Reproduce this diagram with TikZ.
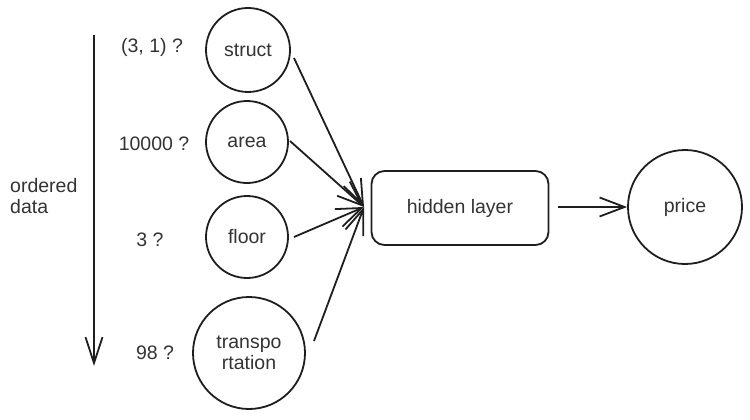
\documentclass[tikz,border=0pt]{standalone}
\usepackage{fontspec}
\setmainfont{Liberation Sans}
\usetikzlibrary{arrows.meta}
\definecolor{ink}{HTML}{1E1E1E}
\definecolor{txt}{HTML}{333333}
\begin{document}
\begin{tikzpicture}[x=1pt,y=-1pt,
  every node/.style={font=\fontsize{19.5}{21.5}\selectfont, text=txt},
  feat/.style={circle, draw=ink, line width=1.8pt, inner sep=0pt},
  lbl/.style={inner sep=0pt},
  conn/.style={draw=ink, line width=1.8pt, -{Straight Barb[length=25pt,width=19pt,line width=1.8pt]}},
  hbox/.style={draw=ink, line width=1.8pt, rounded corners=13pt, minimum width=177pt, minimum height=74pt}]
\useasboundingbox (0,0) rectangle (750,420);
% ordered data arrow
\coordinate (otop) at (94,35);
\coordinate (obot) at (94,366);
\draw[draw=ink, line width=1.8pt, -{Straight Barb[length=26pt,width=17pt,line width=1.8pt]}] (otop) -- (obot);
\node[lbl, anchor=west, align=left] (od) at (10,196) {ordered\\data};
% features
\node[feat, minimum size=84pt] (struct) at (248,50) {struct};
\node[feat, minimum size=82pt] (area) at (247,142) {area};
\node[feat, minimum size=82pt] (floor) at (247,237) {floor};
\node[feat, minimum size=112pt, align=center] (trans) at (249,353) {transpo\\rtation};
% value labels
\node[lbl] (v1) at (152,47) {(3, 1) ?};
\node[lbl] (v2) at (154,144) {10000 ?};
\node[lbl] (v3) at (150,240) {3 ?};
\node[lbl] (v4) at (155,353) {98 ?};
% hidden layer and price
\node[hbox] (hid) at (460,208) {hidden layer};
\node[feat, minimum size=114pt] (price) at (685,207) {price};
% connectors
\coordinate (hin) at (364,207);
\coordinate (s1) at (294,58);
\coordinate (s2) at (290,141);
\coordinate (s3) at (294,237);
\coordinate (s4) at (314,341);
\coordinate (hout) at (558,207);
\draw[conn] (s1) -- (hin);
\draw[conn] (s2) -- (hin);
\draw[conn] (s3) -- (hin);
\draw[conn] (s4) -- (hin);
\draw[conn] (hout) -- (price.west);
\end{tikzpicture}
\end{document}
